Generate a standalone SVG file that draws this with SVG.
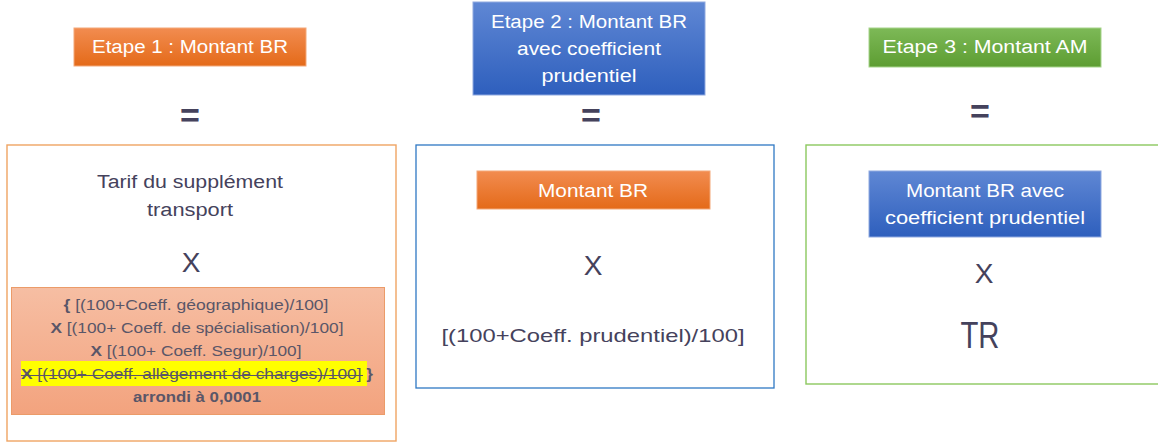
<svg xmlns="http://www.w3.org/2000/svg" width="1158" height="443" viewBox="0 0 1158 443">
<defs>
<linearGradient id="gOrange" x1="0" y1="0" x2="0" y2="1"><stop offset="0" stop-color="#f28c50"/><stop offset="1" stop-color="#e46a19"/></linearGradient>
<linearGradient id="gBlue" x1="0" y1="0" x2="0" y2="1"><stop offset="0" stop-color="#5f87d4"/><stop offset="1" stop-color="#2e5fbd"/></linearGradient>
<linearGradient id="gGreen" x1="0" y1="0" x2="0" y2="1"><stop offset="0" stop-color="#7db957"/><stop offset="1" stop-color="#5d9d32"/></linearGradient>
<linearGradient id="gPeach" x1="0" y1="0" x2="0" y2="1"><stop offset="0" stop-color="#f6bea3"/><stop offset="1" stop-color="#f3a37e"/></linearGradient>
</defs>
<style>
text{font-family:"Liberation Sans",Arial,sans-serif;text-anchor:middle}
.w{fill:#ffffff;font-size:18px}
.d{fill:#45425c}
.eq{fill:#45425c;font-size:34px;font-weight:bold}
.x{fill:#45425c;font-size:28px}
.f{fill:#5a5668;font-size:14px}
.b{font-weight:bold}
.tOr{fill:url(#gOrange);stroke:#f3a878;stroke-width:1}
.tBl{fill:url(#gBlue);stroke:#8fa9e0;stroke-width:1}
.tGr{fill:url(#gGreen);stroke:#a6d48a;stroke-width:1}
</style>
<rect width="1158" height="443" fill="#ffffff"/>

<g id="etape1">
<rect class="tOr" x="74" y="28" width="232" height="38"/>
<text class="w" x="190" y="53" textLength="196" lengthAdjust="spacingAndGlyphs">Etape 1 : Montant BR</text>
<text class="eq" x="190" y="127">=</text>
<rect x="7" y="145" width="389" height="296" fill="none" stroke="#efa463" stroke-width="1.4"/>
<text class="d" x="190" y="188" style="font-size:18px" textLength="186" lengthAdjust="spacingAndGlyphs">Tarif du supplément</text>
<text class="d" x="190" y="216" style="font-size:18px" textLength="86" lengthAdjust="spacingAndGlyphs">transport</text>
<text class="x" x="191" y="272">X</text>
<rect x="11.5" y="287.5" width="373" height="127" fill="url(#gPeach)" stroke="#eb9b69" stroke-width="1"/>
<rect x="21" y="361" width="346" height="25" fill="#ffff00"/>
<text class="f" x="196" y="310" textLength="265" lengthAdjust="spacingAndGlyphs"><tspan class="b">{</tspan> [(100+Coeff. géographique)/100]</text>
<text class="f" x="197" y="333" textLength="293" lengthAdjust="spacingAndGlyphs"><tspan class="b">X</tspan> [(100+ Coeff. de spécialisation)/100]</text>
<text class="f" x="196" y="356" textLength="211" lengthAdjust="spacingAndGlyphs"><tspan class="b">X</tspan> [(100+ Coeff. Segur)/100]</text>
<text class="f" x="197" y="379" textLength="352" lengthAdjust="spacingAndGlyphs"><tspan class="b">X</tspan> [(100+ Coeff. allègement de charges)/100] <tspan class="b">}</tspan></text>
<line x1="21" y1="375.5" x2="363" y2="375.5" stroke="#5a5668" stroke-width="1.2"/>
<text class="f b" x="197" y="402" textLength="128" lengthAdjust="spacingAndGlyphs">arrondi à 0,0001</text>
</g>

<g id="etape2">
<rect class="tBl" x="473" y="2" width="232" height="93"/>
<text class="w" x="589" y="28" textLength="196" lengthAdjust="spacingAndGlyphs">Etape 2 : Montant BR</text>
<text class="w" x="589" y="55" textLength="144" lengthAdjust="spacingAndGlyphs">avec coefficient</text>
<text class="w" x="589" y="82" textLength="95" lengthAdjust="spacingAndGlyphs">prudentiel</text>
<text class="eq" x="591" y="127">=</text>
<rect x="416" y="145" width="358" height="243" fill="none" stroke="#2f78c4" stroke-width="1.3"/>
<rect class="tOr" x="477" y="171" width="233" height="38"/>
<text class="w" x="593" y="197" textLength="110" lengthAdjust="spacingAndGlyphs">Montant BR</text>
<text class="x" x="593" y="275">X</text>
<text class="d" x="593" y="342" style="font-size:19px" textLength="303" lengthAdjust="spacingAndGlyphs">[(100+Coeff. prudentiel)/100]</text>
</g>

<g id="etape3">
<rect class="tGr" x="869" y="28" width="232" height="39"/>
<text class="w" x="985" y="53" textLength="205" lengthAdjust="spacingAndGlyphs">Etape 3 : Montant AM</text>
<text class="eq" x="980" y="123">=</text>
<rect x="806" y="145" width="370" height="239" fill="none" stroke="#8cc85f" stroke-width="1.4"/>
<rect class="tBl" x="869" y="171" width="232" height="66"/>
<text class="w" x="985" y="197" textLength="158" lengthAdjust="spacingAndGlyphs">Montant BR avec</text>
<text class="w" x="985" y="224" textLength="200" lengthAdjust="spacingAndGlyphs">coefficient prudentiel</text>
<text class="x" x="984" y="283">X</text>
<text class="d" x="980" y="348" style="font-size:36px" textLength="39" lengthAdjust="spacingAndGlyphs">TR</text>
</g>
</svg>
